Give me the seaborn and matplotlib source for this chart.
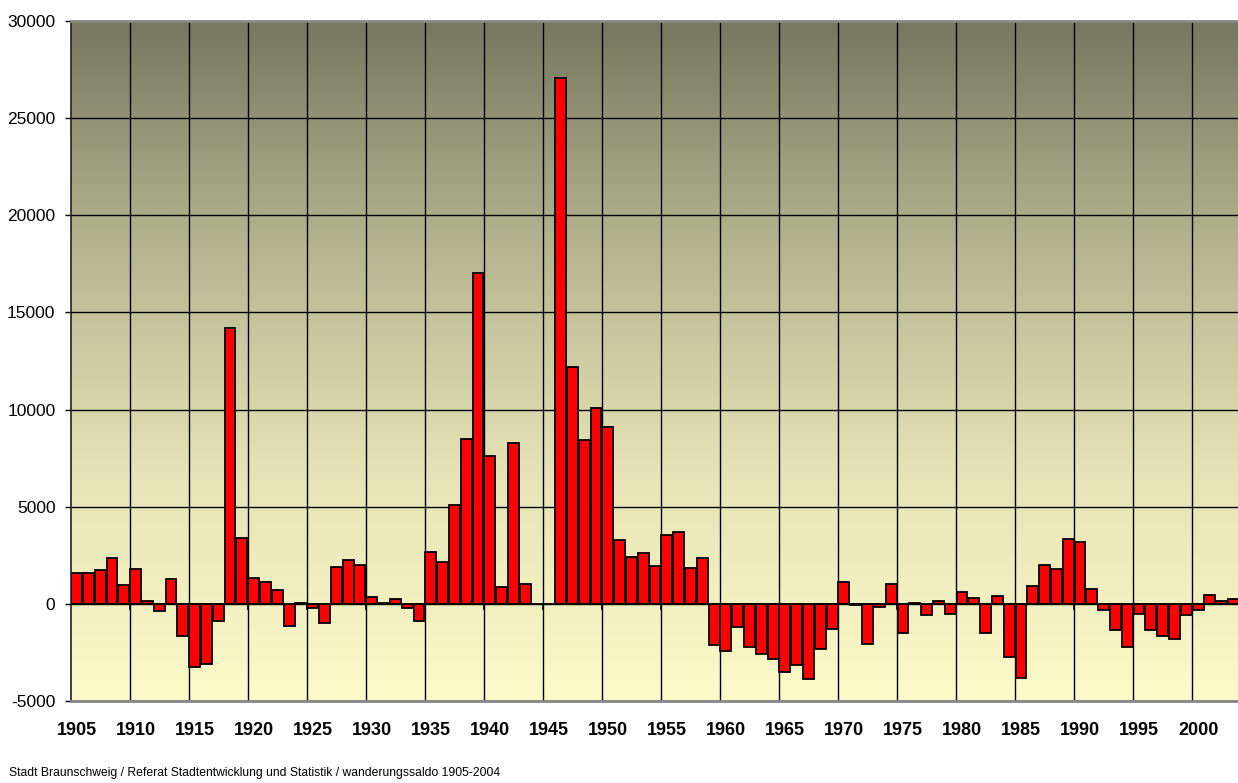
import numpy as np
import pandas as pd
import matplotlib
matplotlib.use("Agg")
import matplotlib.pyplot as plt
from matplotlib.colors import LinearSegmentedColormap
import seaborn as sns

years = list(range(1905, 2005))
values = [
    1600, 1580, 1750, 2370, 980, 1800, 120, -390, 1250, -1680,        # 1905-1914
    -3260, -3120, -890, 14210, 3400, 1310, 1120, 690, -1150, 50,      # 1915-1924
    -200, -990, 1870, 2230, 1990, 330, 30, 250, -240, -870,           # 1925-1934
    2640, 2160, 5090, 8490, 17020, 7620, 860, 8290, 1020, np.nan,     # 1935-1944
    np.nan, 27080, 12180, 8450, 10080, 9080, 3260, 2400, 2590, 1930,  # 1945-1954
    3560, 3670, 1830, 2340, -2110, -2440, -1220, -2250, -2610, -2870, # 1955-1964
    -3500, -3180, -3880, -2330, -1290, 1100, -80, -2060, -190, 1000,  # 1965-1974
    -1510, 50, -570, 140, -550, 620, 310, -1530, 400, -2760,          # 1975-1984
    -3850, 920, 1980, 1770, 3310, 3200, 750, -340, -1340, -2250,      # 1985-1994
    -530, -1370, -1650, -1840, -580, -340, 440, 160, 230, 200,        # 1995-2004
]
year_labels = [str(y) for y in years]
tick_years = [str(y) for y in range(1905, 2001, 5)]
y_ticks = [-5000, 0, 5000, 10000, 15000, 20000, 25000, 30000]
caption = "Stadt Braunschweig / Referat Stadtentwicklung und Statistik / wanderungssaldo 1905-2004"

df = pd.DataFrame({"Jahr": year_labels, "Saldo": values})

sns.set_theme(style="white")
plt.rcParams["font.family"] = ["Liberation Sans", "DejaVu Sans"]

W, H = 1238, 783
fig = plt.figure(figsize=(W / 100, H / 100), dpi=100)
left_px, top_px, bottom_px = 70.7, 21.1, 700.8
slot = 11.805
ax = fig.add_axes([left_px / W, 1 - bottom_px / H, 100 * slot / W, (bottom_px - top_px) / H])

# gradient background
cmap = LinearSegmentedColormap.from_list("bg", ["#fcfac8", "#e6e4b6", "#b6b590", "#777760"])
grad = np.linspace(0, 1, 256)[:, None]
ax.imshow(grad, extent=[0, 1, 0, 1], transform=ax.transAxes, aspect="auto",
          cmap=cmap, origin="lower", zorder=0)

sns.barplot(data=df, x="Jahr", y="Saldo", order=year_labels, color="#ff0000",
            saturation=1, edgecolor="black", linewidth=1.3, width=0.92,
            errorbar=None, ax=ax, zorder=2)

ax.set_xlim(-0.5, len(years) - 0.5)
ax.set_ylim(-5000, 30000)
ax.set_xlabel("")
ax.set_ylabel("")

# ticks and gridlines
ax.set_yticks(y_ticks)
ax.set_yticklabels([str(v) for v in y_ticks], fontsize=12.5)
ax.tick_params(axis="y", direction="out", length=4, width=1, color="black",
               pad=7, left=True, labelcolor="black")
pos = [year_labels.index(t) for t in tick_years]
ax.set_xticks(pos)
ax.set_xticklabels(tick_years, fontsize=13, fontweight="bold")
ax.tick_params(axis="x", length=0, pad=15, labelcolor="black")
ax.set_xticks(np.arange(4.5, 100, 5), minor=True)
ax.grid(False)
ax.yaxis.grid(True, which="major", color="black", linewidth=1)
ax.xaxis.grid(True, which="minor", color="black", linewidth=1)
ax.tick_params(axis="x", which="minor", length=0)
ax.set_axisbelow(True)
ax.axhline(0, color="black", linewidth=1.3, zorder=3)

for side in ["top", "bottom", "right"]:
    ax.spines[side].set_color("#888888")
    ax.spines[side].set_linewidth(2)
ax.spines["left"].set_color("#222222")
ax.spines["left"].set_linewidth(1.2)

# small ticks on the category axis at zero
secx = ax.secondary_xaxis(5 / 35)
secx.set_xticks(np.arange(4.5, 100, 5))
secx.set_xticklabels([])
secx.tick_params(axis="x", direction="out", length=4, width=1.2, color="black")
secx.spines["bottom"].set_visible(False)

fig.text(9 / W, 1 - 773 / H, caption, fontsize=8.7, va="center", ha="left", color="black")

fig.savefig("out.png", dpi=100)
